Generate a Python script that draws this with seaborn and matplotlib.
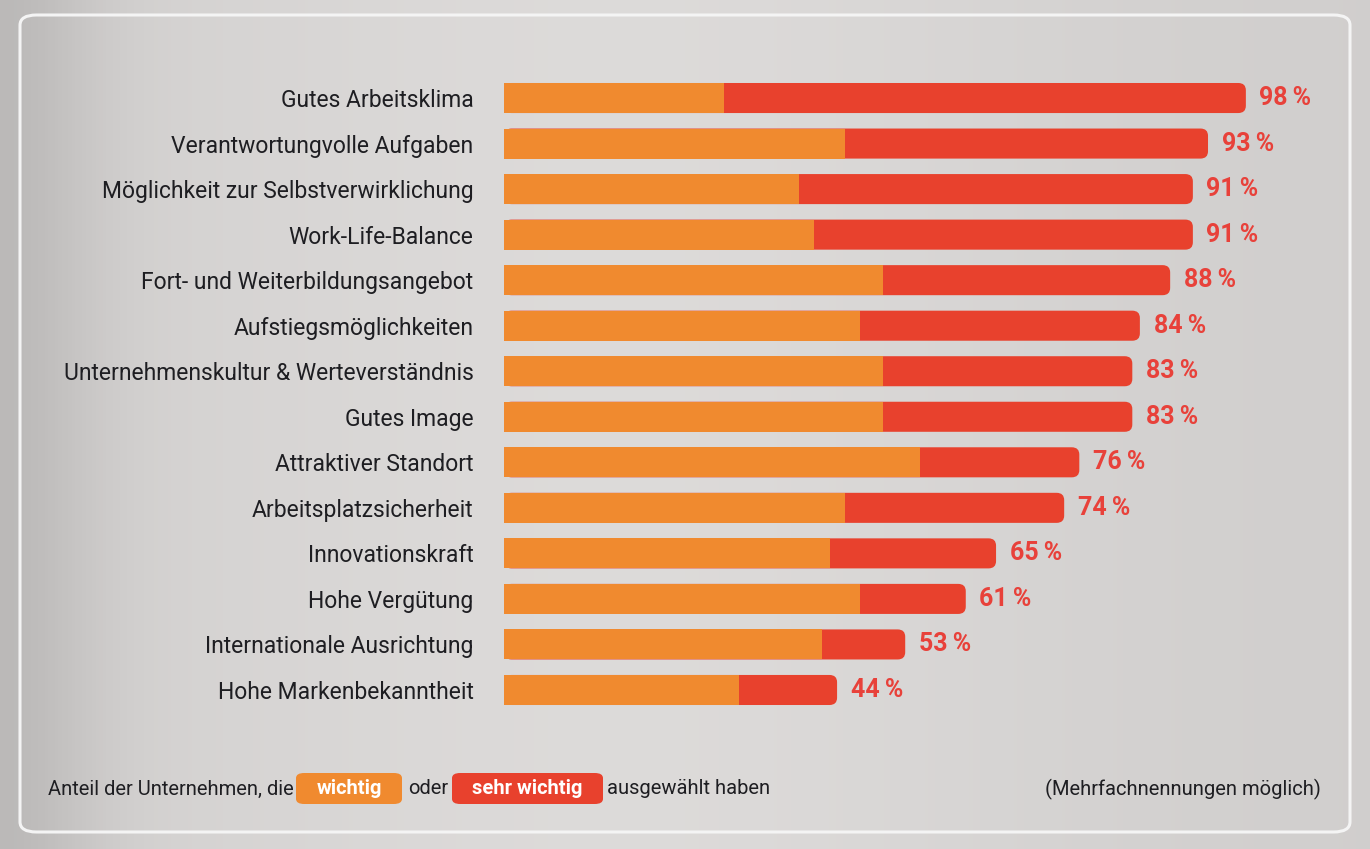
import numpy as np
import pandas as pd
import matplotlib
matplotlib.use("Agg")
import matplotlib.pyplot as plt
from matplotlib.patches import FancyBboxPatch
import seaborn as sns

categories = [
    "Gutes Arbeitsklima",
    "Verantwortungvolle Aufgaben",
    "Möglichkeit zur Selbstverwirklichung",
    "Work-Life-Balance",
    "Fort- und Weiterbildungsangebot",
    "Aufstiegsmöglichkeiten",
    "Unternehmenskultur & Werteverständnis",
    "Gutes Image",
    "Attraktiver Standort",
    "Arbeitsplatzsicherheit",
    "Innovationskraft",
    "Hohe Vergütung",
    "Internationale Ausrichtung",
    "Hohe Markenbekanntheit",
]
wichtig = [29, 45, 39, 41, 50, 47, 50, 50, 55, 45, 43, 47, 42, 31]
sehr_wichtig = [69, 48, 52, 50, 38, 37, 33, 33, 21, 29, 22, 14, 11, 13]
gesamt = [98, 93, 91, 91, 88, 84, 83, 83, 76, 74, 65, 61, 53, 44]

ORANGE = "#F08A2F"
RED = "#E8412D"
TEXT = "#1e1e22"

sns.set_theme(style="white")
FONT = ["Roboto", "DejaVu Sans"]
plt.rcParams["font.family"] = FONT

W, H = 1370, 849
fig = plt.figure(figsize=(W / 100, H / 100), dpi=100)

# background gradient
bg = fig.add_axes([0, 0, 1, 1], zorder=-10)
xs = np.linspace(0, 1, 400)
lum = 0.815 + 0.05 * np.exp(-((xs - 0.45) / 0.35) ** 2) - 0.09 * np.exp(-(xs / 0.07) ** 2)
grad = np.tile(lum, (50, 1))
img = np.dstack([grad * 1.0, grad * 0.99, grad * 0.985])
bg.imshow(np.clip(img, 0, 1), aspect="auto", extent=[0, 1, 0, 1])
bg.set_axis_off()

# panel
panel = FancyBboxPatch((20 / W, 1 - 832 / H), 1330 / W, 817 / H,
                       boxstyle="round,pad=0,rounding_size=0.012",
                       transform=fig.transFigure, facecolor="none",
                       edgecolor="#f4f4f4", linewidth=2.2, zorder=-5)
fig.patches.append(panel)

ax = fig.add_axes([504 / W, 1 - 712.75 / H, 832.7 / W, (712.75 - 75.25) / H])
ax.set_facecolor("none")

df = pd.DataFrame({"Kategorie": categories, "wichtig": wichtig,
                   "sehr_wichtig": sehr_wichtig, "gesamt": gesamt})

sns.barplot(data=df, x="gesamt", y="Kategorie", color=RED, saturation=1,
            width=0.66, orient="h", ax=ax)
red_bars = list(ax.patches)
for p in red_bars:
    x0, y0 = p.get_x(), p.get_y()
    w, h = p.get_width(), p.get_height()
    p.remove()
    r = FancyBboxPatch((x0, y0), w, h,
                       boxstyle="round,pad=0,rounding_size=1.0",
                       mutation_aspect=0.16,
                       facecolor=RED, edgecolor="none", zorder=2)
    ax.add_patch(r)

sns.barplot(data=df, x="wichtig", y="Kategorie", color=ORANGE, saturation=1,
            width=0.66, orient="h", ax=ax)
for p in ax.patches:
    if p.get_facecolor()[:3] == matplotlib.colors.to_rgb(ORANGE):
        p.set_zorder(3)
        p.set_edgecolor("none")

for i, t in enumerate(gesamt):
    ax.text(t + 1.8, i, f"{t}\u2009%", va="center", ha="left", color="#E8413A",
            fontsize=18, fontweight="bold", family=FONT)

ax.set_xlim(0, 110)
ax.set_ylim(13.5, -0.5)
ax.set_xlabel("")
ax.set_ylabel("")
ax.set_xticks([])
ax.tick_params(axis="y", length=0, pad=22, labelsize=16.5, labelcolor=TEXT)
for s in ax.spines.values():
    s.set_visible(False)

# legend line
ly = 1 - 789 / H
fs = 14.5


def badge(x0, x1, color):
    b = FancyBboxPatch((x0 / W, 1 - 804 / H), (x1 - x0) / W, 31 / H,
                       boxstyle="round,pad=0,rounding_size=0.006",
                       transform=fig.transFigure, facecolor=color,
                       edgecolor="none", zorder=1)
    fig.patches.append(b)


fig.text(48 / W, ly, "Anteil der Unternehmen, die", ha="left", va="center",
         fontsize=fs, color=TEXT)
badge(296, 402, ORANGE)
fig.text(349 / W, ly, "wichtig", ha="center", va="center", fontsize=fs,
         color="white", fontweight="bold")
fig.text(408 / W, ly, "oder", ha="left", va="center", fontsize=fs, color=TEXT)
badge(452, 603, RED)
fig.text(527 / W, ly, "sehr wichtig", ha="center", va="center", fontsize=fs,
         color="white", fontweight="bold")
fig.text(607 / W, ly, "ausgewählt haben", ha="left", va="center", fontsize=fs,
         color=TEXT)
fig.text(1321 / W, ly, "(Mehrfachnennungen möglich)", ha="right", va="center",
         fontsize=fs, color=TEXT)

fig.savefig("out.png", dpi=100)
